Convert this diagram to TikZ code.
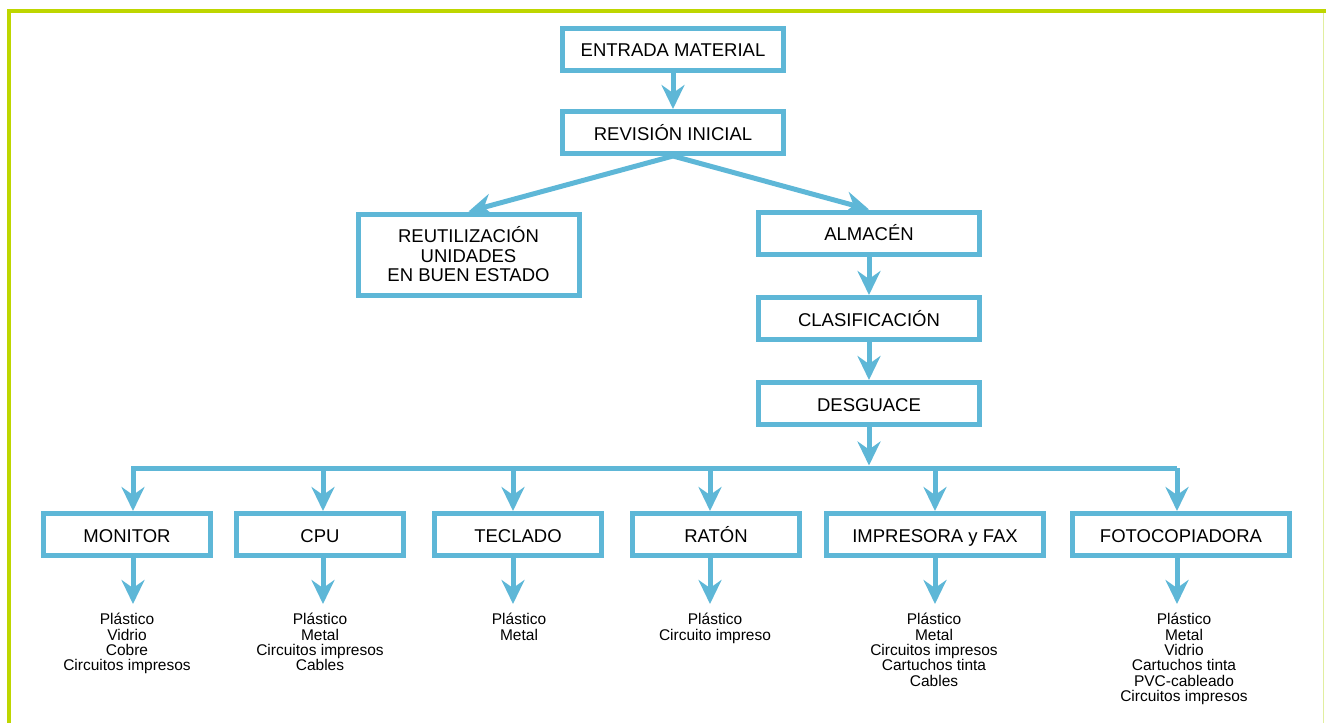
\documentclass[tikz,border=0pt]{standalone}
\usepackage{fontspec}
\setmainfont{Liberation Sans}
\usetikzlibrary{arrows.meta,calc}
\definecolor{azulcaja}{RGB}{94,183,215}
\definecolor{verdemarco}{RGB}{190,214,0}
\definecolor{verdeclaro}{RGB}{225,238,160}

\tikzset{
  caja/.style={draw=azulcaja, line width=5pt, fill=white, minimum height=42pt, inner sep=2pt, align=center, font=\fontsize{18.5}{19.5}\selectfont},
  fija/.style={caja, text height=16pt, text depth=1pt},
  flecha/.style={draw=azulcaja, line width=5pt, line join=miter, -{Stealth[length=24pt,width=23pt,inset=8pt]}},
  lista/.style={anchor=north, align=center, inner sep=0pt, font=\fontsize{15.5}{15.4}\selectfont}
}

\begin{document}
\begin{tikzpicture}[x=1pt, y=-1pt]
\useasboundingbox (0,0) rectangle (1326,723);
% marco
\draw[verdemarco, line width=4pt] (1326,11) -- (9,11) -- (9,723);
\draw[verdeclaro, line width=1pt] (1323,13) -- (1323,723);

% parte superior
\node[fija, minimum width=221pt] (ent) at (673,49) {ENTRADA MATERIAL};
\node[fija, minimum width=221pt] (rev) at (673,132.5) {REVISIÓN INICIAL};
\node[caja, minimum width=221pt, minimum height=81pt] (reu) at (468.5,254.5) {REUTILIZACIÓN\\UNIDADES\\EN BUEN ESTADO};
\node[fija, minimum width=221pt] (alm) at (869,233) {ALMACÉN};
\node[fija, minimum width=221pt] (cla) at (869,318.5) {CLASIFICACIÓN};
\node[fija, minimum width=221pt] (des) at (869,403.5) {DESGUACE};

\draw[flecha] (ent) -- (rev);
\draw[flecha] (rev.south) -- (reu.north);
\draw[flecha] (rev.south) -- (alm.north);
\draw[flecha] (alm) -- (cla);
\draw[flecha] (cla) -- (des);

% aparatos
\foreach \nom/\txt/\cx/\w/\ax in {mon/MONITOR/127/167/133, cpu/CPU/320/167/323, tec/TECLADO/518/167/513,
    rat/RATÓN/716/167/710, imp/IMPRESORA y FAX/935/217/935, fot/FOTOCOPIADORA/1181/217/1177}{
  \node[fija, minimum width=\w pt] (\nom) at (\cx,534.5) {\txt};
  \coordinate (b\nom) at (\ax,468);
}

\draw[flecha, shorten >=2.5pt] (des.south) -- (des.south |- bmon);
\draw[flecha] (bfot) -- (bmon) -- (bmon |- mon.north);
\foreach \nom in {cpu,tec,rat,imp,fot}{
  \draw[flecha] (b\nom) -- (b\nom |- \nom.north);
}

% materiales
\node[lista] (lmon) at (127,613) {Plástico\\Vidrio\\Cobre\\Circuitos impresos};
\node[lista] (lcpu) at (320,613) {Plástico\\Metal\\Circuitos impresos\\Cables};
\node[lista] (ltec) at (519,613) {Plástico\\Metal};
\node[lista] (lrat) at (715,613) {Plástico\\Circuito impreso};
\node[lista] (limp) at (934,613) {Plástico\\Metal\\Circuitos impresos\\Cartuchos tinta\\Cables};
\node[lista] (lfot) at (1184,613) {Plástico\\Metal\\Vidrio\\Cartuchos tinta\\PVC-cableado\\Circuitos impresos};

\foreach \nom in {mon,cpu,tec,rat,imp,fot}{
  \draw[flecha, shorten >=9pt] (b\nom |- \nom.south) -- (b\nom |- l\nom.north);
}
\end{tikzpicture}
\end{document}
